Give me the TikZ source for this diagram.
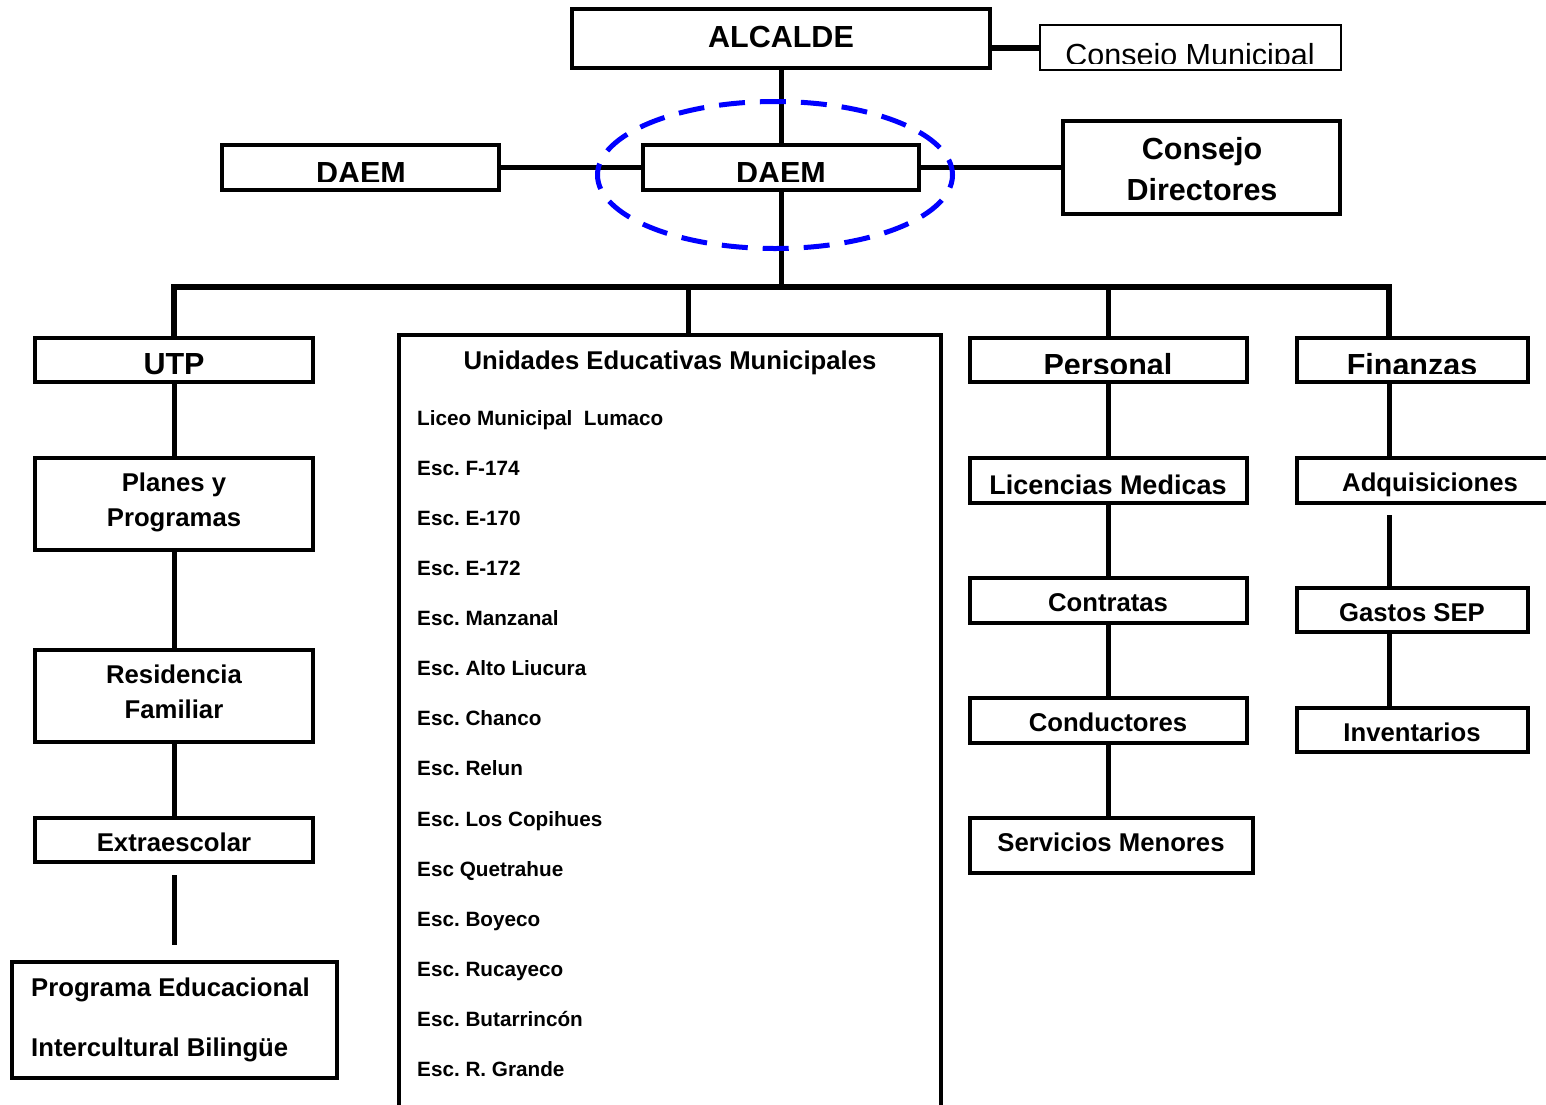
\documentclass[tikz,border=0pt]{standalone}
\usepackage{fontspec}
\setmainfont{Liberation Sans}
\frenchspacing
\begin{document}
\frenchspacing
\begin{tikzpicture}[x=1pt,y=-1pt,
  box/.style={draw, line width=3.8pt, inner sep=0pt},
  big/.style={font=\bfseries\fontsize{30.5}{36}\selectfont},
  med/.style={font=\bfseries\fontsize{25.7}{30}\selectfont},
  lst/.style={font=\bfseries\fontsize{20.7}{24}\selectfont},
  lbl/.style={inner sep=0pt, anchor=base},
  lblw/.style={inner sep=0pt, anchor=base west},
  conn/.style={line width=5pt},
  bus/.style={line width=6pt, line join=miter}]
\useasboundingbox (0,0) rectangle (1546,1104);
\fill[white] (0,0) rectangle (1546,1104);

% ---------- clipped labels (drawn before boxes) ----------
\begin{scope}
  \clip (1041,26) rectangle (1340,63);
  \node[lbl, font=\fontsize{30.5}{36}\selectfont] (t-cm) at (1190,65) {Consejo Municipal};
\end{scope}
\begin{scope}
  \clip (222,145) rectangle (499,181);
  \node[lbl, big] (t-daemL) at (361,183) {DAEM};
\end{scope}
\begin{scope}
  \clip (643,145) rectangle (919,181);
  \node[lbl, big] (t-daemC) at (781,183) {DAEM};
\end{scope}
\begin{scope}
  \clip (970,338) rectangle (1247,373);
  \node[lbl, big] (t-per) at (1108,375) {Personal};
\end{scope}
\begin{scope}
  \clip (1297,338) rectangle (1528,373);
  \node[lbl, big] (t-fin) at (1412,375) {Finanzas};
\end{scope}

% ---------- boxes ----------
\node[box, line width=4pt, minimum width=418, minimum height=59] (alc) at (781,38.5) {};
\node[box, line width=2.5pt, minimum width=301, minimum height=45] (cm) at (1190.5,47.5) {};
\node[box, minimum width=277.5, minimum height=45.5] (daemL) at (360.5,167.5) {};
\node[box, minimum width=276.5, minimum height=45.5] (daemC) at (781,167.5) {};
\node[box, minimum width=277.5, minimum height=93.5] (cd) at (1201.5,167.5) {};

\node[box, minimum width=278.5, minimum height=44.5] (utp) at (174,360) {};
\node[box, minimum width=278.5, minimum height=92.5] (pyp) at (174,504) {};
\node[box, minimum width=278.5, minimum height=92.5] (res) at (174,696) {};
\node[box, minimum width=278.5, minimum height=44.5] (ext) at (174,840) {};
\node[box, minimum width=325.5, minimum height=116.5] (peib) at (174.5,1020) {};

\node[box, minimum width=542.5, minimum height=785] (ued) at (670,727.5) {};

\node[box, minimum width=277.5, minimum height=44.5] (per) at (1108.5,360) {};
\node[box, minimum width=277.5, minimum height=45.5] (lic) at (1108.5,480.5) {};
\node[box, minimum width=277.5, minimum height=45.5] (con) at (1108.5,600.5) {};
\node[box, minimum width=277.5, minimum height=45.5] (cond) at (1108.5,720.5) {};
\node[box, minimum width=283.5, minimum height=55.5] (ser) at (1111.5,845.5) {};

\node[box, minimum width=231.5, minimum height=44.5] (fin) at (1412.5,360) {};
\node[box, minimum width=266.5, minimum height=45.5] (adq) at (1430,480.5) {};
\node[box, minimum width=231.5, minimum height=44.5] (gas) at (1412.5,610) {};
\node[box, minimum width=231.5, minimum height=44.5] (inv) at (1412.5,730) {};

% ---------- labels ----------
\node[lbl, big] (t-alc) at (781,47) {ALCALDE};
\node[lbl, big] (t-cd1) at (1202,159) {Consejo};
\node[lbl, big] (t-cd2) at (1202,200) {Directores};
\node[lbl, big] (t-utp) at (174,374) {UTP};
\node[lbl, med] (t-pyp1) at (174,491) {Planes y};
\node[lbl, med] (t-pyp2) at (174,526) {Programas};
\node[lbl, med] (t-res1) at (174,683) {Residencia};
\node[lbl, med] (t-res2) at (174,718) {Familiar};
\node[lbl, med] (t-ext) at (174,851) {Extraescolar};
\node[lblw, med] (t-peib1) at (31,996) {Programa Educacional};
\node[lblw, med] (t-peib2) at (31,1056) {Intercultural Bilingüe};

\node[lbl, med] (t-ued) at (670,369) {Unidades Educativas Municipales};
\foreach \t [count=\i from 0] in {Liceo Municipal\ \ Lumaco, Esc. F-174, Esc. E-170, Esc. E-172, Esc. Manzanal, Esc. Alto Liucura, Esc. Chanco, Esc. Relun, Esc. Los Copihues, Esc Quetrahue, Esc. Boyeco, Esc. Rucayeco, Esc. Butarrincón, Esc. R. Grande}
  \node[lblw, lst] (t-esc\i) at (417,{425.4+50.08*\i}) {\frenchspacing\t};

\node[lbl, font=\bfseries\fontsize{27}{32}\selectfont] (t-lic) at (1108,494) {Licencias Medicas};
\node[lbl, med] (t-con) at (1108,611) {Contratas};
\node[lbl, med] (t-cond) at (1108,731) {Conductores};
\node[lbl, med] (t-ser) at (1111,851) {Servicios Menores};
\node[lbl, med] (t-adq) at (1430,491) {Adquisiciones};
\node[lbl, med] (t-gas) at (1412,621) {Gastos SEP};
\node[lbl, med] (t-inv) at (1412,741) {Inventarios};

% ---------- connectors ----------
\coordinate (busL) at (174,287);
\coordinate (busR) at (1389,287);
\coordinate (tapU) at (688,287);
\coordinate (egap1) at (174,875);
\coordinate (egap2) at (174,945);
\coordinate (fgap) at (1389,515);

\draw[bus] (alc.east |- cm.west) -- (cm.west);
\draw[conn] (alc.south) -- (daemC.north);
\draw[conn] (daemL.east) -- (daemC.west);
\draw[conn] (daemC.east) -- (cd.west);
\draw[conn] (daemC.south) -- (daemC.south |- busL);
\draw[bus] (utp.north) -- (busL) -- (busR) -- (busR |- fin.north);
\draw[conn] (tapU) -- (tapU |- ued.north);
\draw[conn] (per.north |- busL) -- (per.north);

\draw[conn] (utp.south) -- (pyp.north);
\draw[conn] (pyp.south) -- (res.north);
\draw[conn] (res.south) -- (ext.north);
\draw[conn] (egap1) -- (egap2);

\draw[conn] (per.south) -- (lic.north);
\draw[conn] (lic.south) -- (con.north);
\draw[conn] (con.south) -- (cond.north);
\draw[conn] (cond.south) -- (cond.south |- ser.north);

\draw[conn] (busR |- fin.south) -- (busR |- adq.north);
\draw[conn] (fgap) -- (fgap |- gas.north);
\draw[conn] (busR |- gas.south) -- (busR |- inv.north);

% ---------- highlight ellipse ----------
\draw[blue, line width=5pt, dash pattern=on 26pt off 15pt, dash phase=13pt]
  (775,175) ellipse [x radius=177.5, y radius=73.5];
\end{tikzpicture}
\end{document}
